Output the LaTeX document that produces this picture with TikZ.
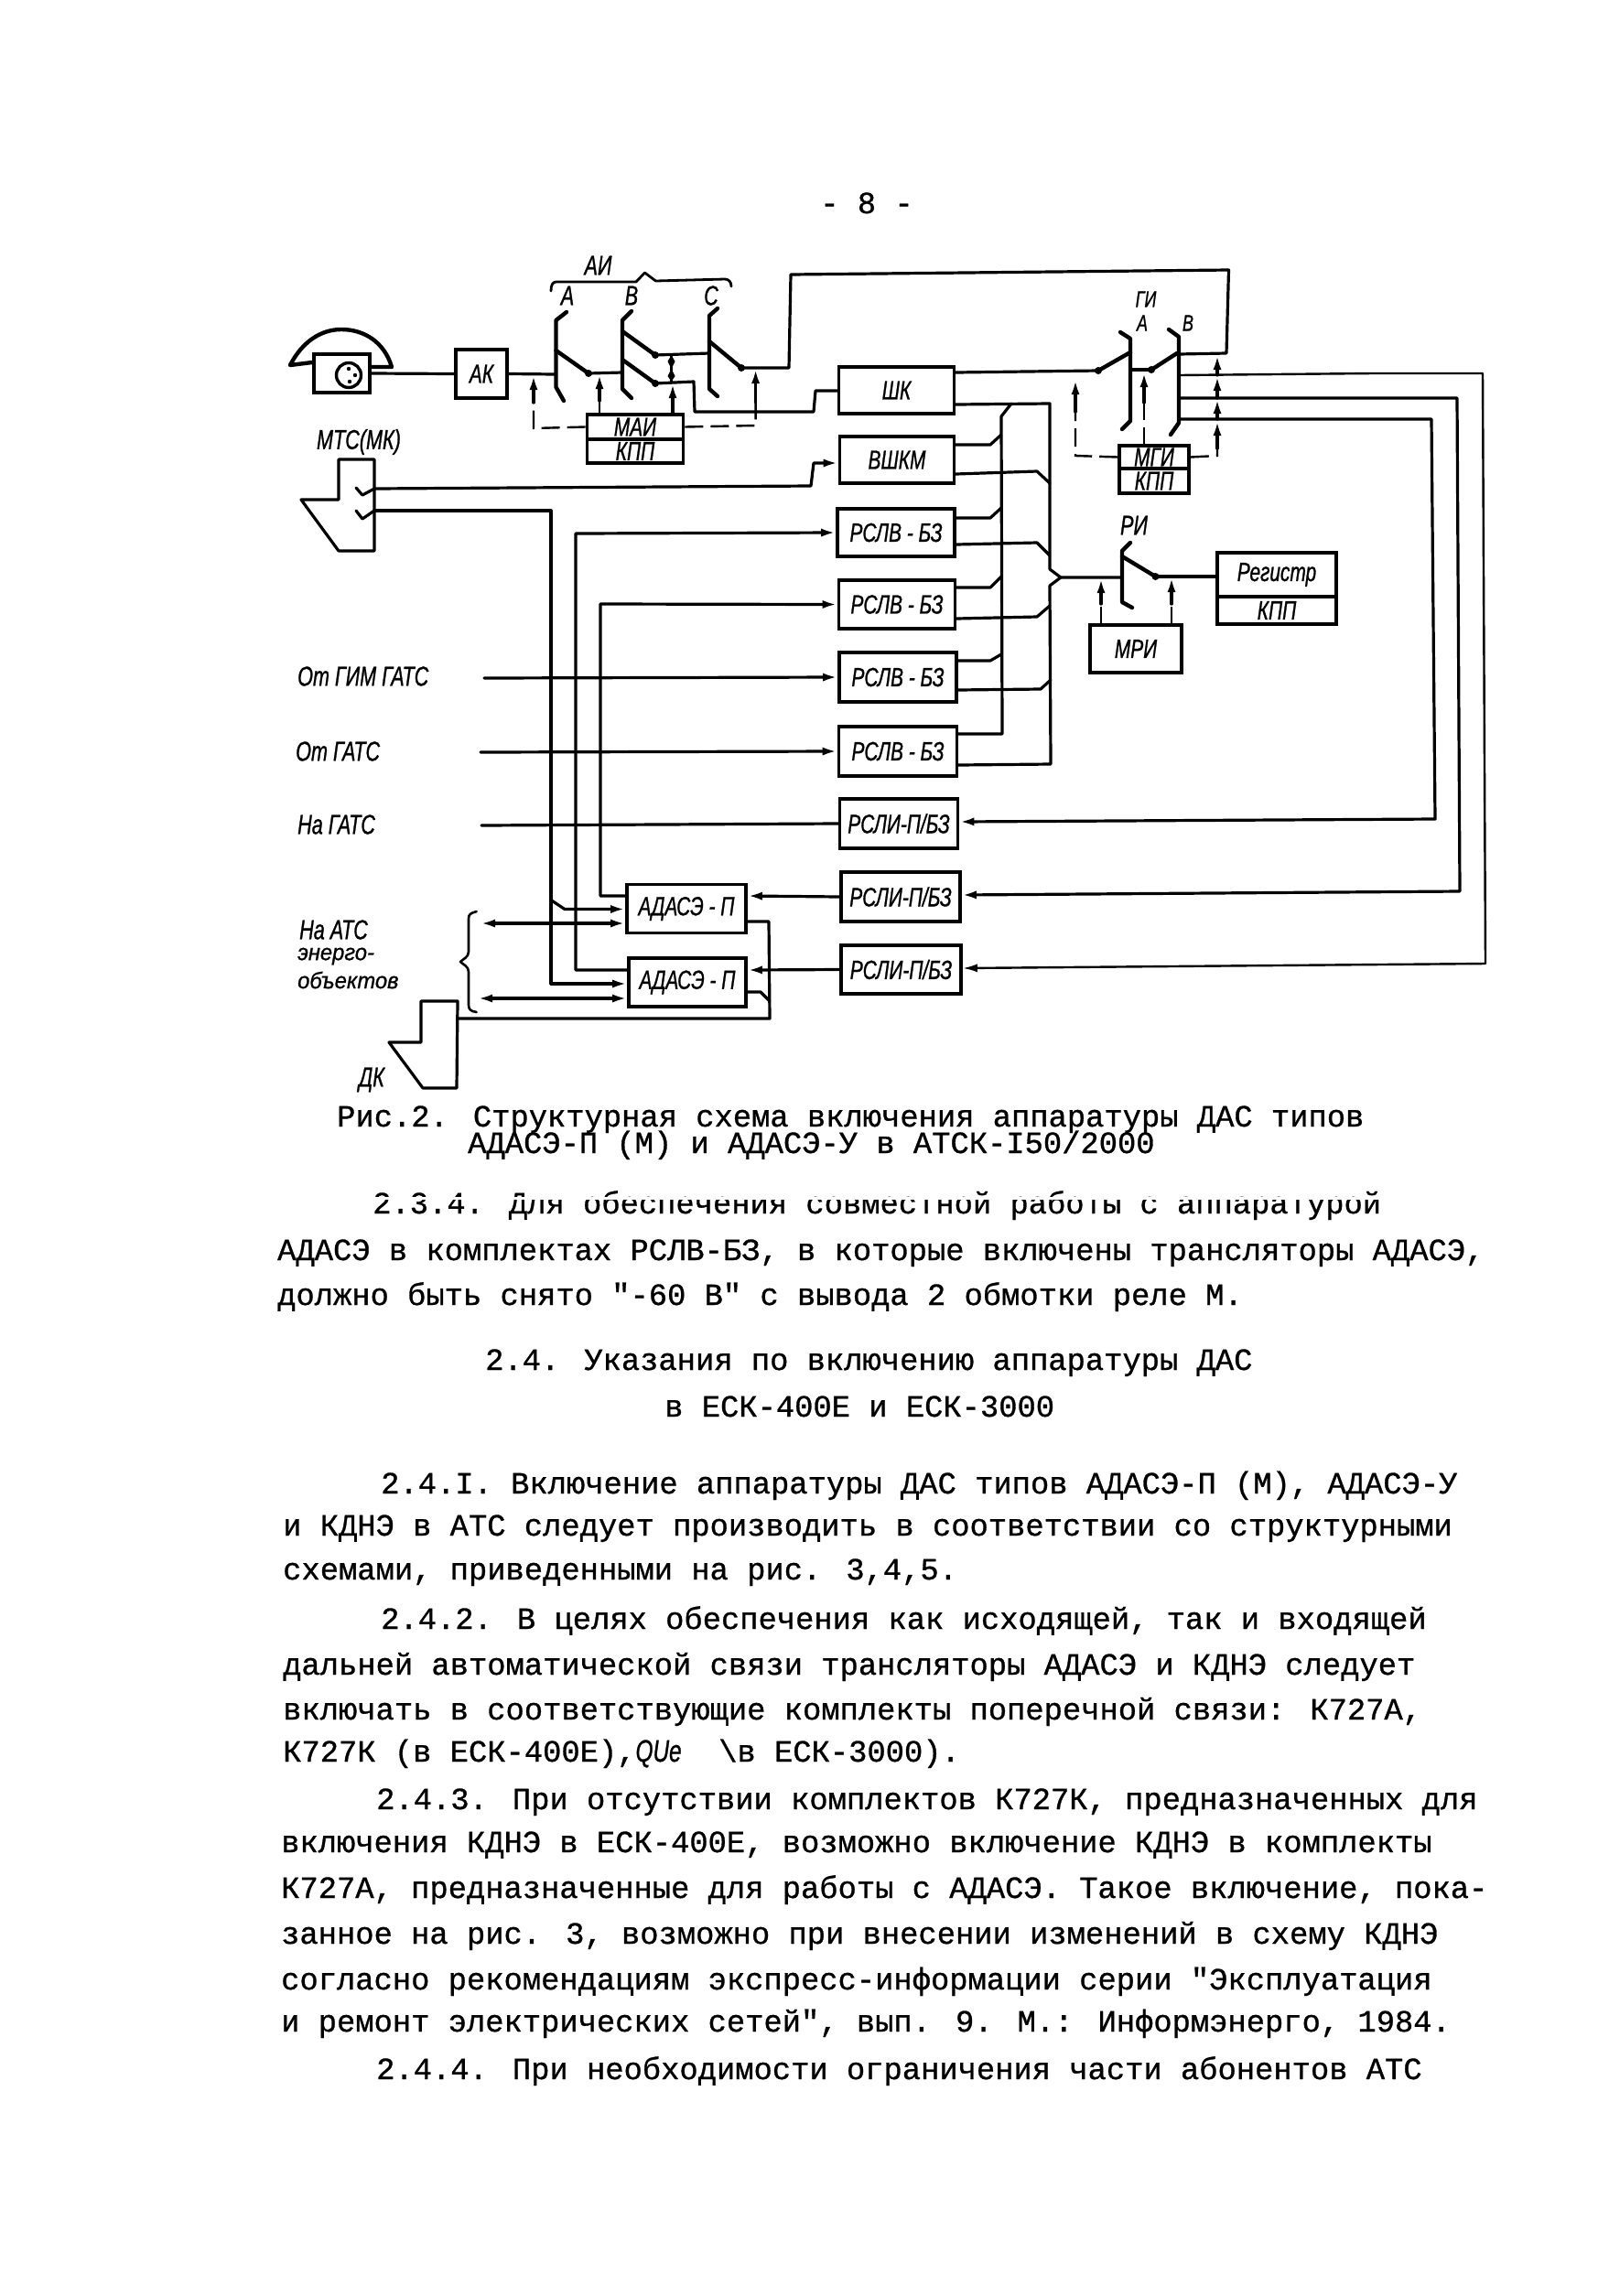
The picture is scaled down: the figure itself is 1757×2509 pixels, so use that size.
\documentclass[tikz,border=0pt]{standalone}
\usepackage{fontspec}
\setmainfont{Liberation Mono}
\newfontfamily\typ[FakeBold=0.9]{Liberation Mono}
\newfontfamily\lab[FakeStretch=0.72,FakeBold=0.9]{Liberation Sans}
\newfontfamily\labw[FakeStretch=0.95,FakeBold=0.9]{Liberation Sans}
\usetikzlibrary{arrows.meta}
\tikzset{
  ln/.style={line width=3.2pt,line join=round,line cap=round},
  thinln/.style={line width=2.4pt,line join=round,line cap=round},
  heavy/.style={line width=4.4pt,line cap=round,line join=round},
  dsh/.style={line width=2.4pt,dash pattern=on 20pt off 8pt},
  arr/.style={-{Latex[length=16pt,width=9pt]}},
  biarr/.style={{Latex[length=16pt,width=9pt]}-{Latex[length=16pt,width=9pt]}},
  bx/.style={draw,line width=3.6pt,inner sep=0pt,align=center,font=\lab\fontsize{29}{29}\selectfont\itshape},
  lb/.style={inner sep=0pt,font=\lab\fontsize{30}{30}\selectfont\itshape},
  lbs/.style={inner sep=0pt,font=\lab\fontsize{25}{25}\selectfont\itshape},
  lbw/.style={inner sep=0pt,anchor=west,font=\labw\fontsize{25}{25}\selectfont\itshape},
  lbl/.style={lb,anchor=west},
  pg/.style={inner sep=0pt,anchor=base west,font=\typ\fontsize{33.8}{34}\selectfont},
}
\begin{document}
\begin{tikzpicture}[x=1pt,y=-1pt]
\useasboundingbox (0,0) rectangle (1757,2509);
% phone
\node[draw,line width=4pt,minimum width=61,minimum height=42,inner sep=0pt] (phone) at (373.5,408) {};
\draw[heavy] (phone.north west) ++(0,11) -- (317,399) .. controls (330,374) and (350,360) .. (373,360) .. controls (398,360) and (420,374) .. (428,401) -- (phone.east |- 0,401);
\node[draw,line width=3.4pt,circle,minimum size=27,inner sep=0pt] (dial) at (381,410) {};
\fill (381,403) circle (2.2) (388,410) circle (2.2) (382,417) circle (2.2);
% main boxes
\node[bx,minimum width=56,minimum height=53] (ak) at (526,408.5) {АК};
\node[bx,minimum width=126,minimum height=51] (shk) at (979.5,426.5) {ШК};
\node[bx,minimum width=125,minimum height=51] (vshkm) at (980,502.5) {ВШКМ};
\node[bx,minimum width=128,minimum height=52] (rslv1) at (979,582) {РСЛВ - БЗ};
\node[bx,minimum width=127,minimum height=53] (rslv2) at (980,660.5) {РСЛВ - БЗ};
\node[bx,minimum width=128,minimum height=54] (rslv3) at (981,740) {РСЛВ - БЗ};
\node[bx,minimum width=129,minimum height=54] (rslv4) at (981,821) {РСЛВ - БЗ};
\node[bx,minimum width=129,minimum height=54] (rsli1) at (982,900) {РСЛИ-П/БЗ};
\node[bx,minimum width=130,minimum height=54] (rsli2) at (984,980) {РСЛИ-П/БЗ};
\node[bx,minimum width=131,minimum height=53] (rsli3) at (984.5,1059.5) {РСЛИ-П/БЗ};
\node[bx,minimum width=130,minimum height=53] (ad1) at (750,993) {АДАСЭ - П};
\node[bx,minimum width=128,minimum height=53] (ad2) at (751,1073.5) {АДАСЭ - П};
\node[bx,minimum width=105,minimum height=27] (mai) at (694,466.5) {МАИ};
\node[bx,minimum width=105,minimum height=26] (kpa) at (694,493) {КПП};
\node[bx,minimum width=76,minimum height=25] (mgi) at (1261,499.5) {МГИ};
\node[bx,minimum width=76,minimum height=27] (kpg) at (1261,525.5) {КПП};
\node[bx,minimum width=130,minimum height=48] (reg) at (1395,628) {Регистр};
\node[bx,minimum width=130,minimum height=30] (kpr) at (1395,667) {КПП};
\node[bx,minimum width=100,minimum height=52] (mri) at (1241,709) {МРИ};
% selector AI
\draw[heavy] (619,341) -- (607.5,350) -- (607.5,423) -- (616,438);
\draw[heavy] (690,340) -- (680,350) -- (680,425) -- (690,435);
\draw[heavy] (784,337) -- (775,345) -- (775,425) -- (784,433);
\draw[heavy] (607.5,383) -- (643,408) (680,362) -- (716,388) (680,393) -- (716,419) (775,373) -- (810,402);
\coordinate (aw) at (643,408);
\coordinate (bw1) at (716,388);
\coordinate (bw2) at (716,419);
\coordinate (cw) at (810,402);
\fill (aw) circle (4) (bw1) circle (4) (bw2) circle (4) (cw) circle (4);
\draw[ln] (phone.east) -- (ak.west);
\draw[ln] (ak.east) -- (607.5,409);
\draw[ln] (aw) -- (680,407);
\draw[ln] (bw1) -- (775,386);
\draw[ln] (bw2) -- (758,417) -- (759,450) -- (889,450) -- (891,427) -- (shk.west |- 0,427);
\draw[ln] (cw) -- (862,402) -- (864,300) -- (1342.5,295) -- (1340,386) -- (1288,387);
% control lines AI
\coordinate (c1) at (583,468);
\draw[dsh] (mai.west) -- (c1) -- (583,430);
\draw[ln,arr] (583,440) -- (583,410);
\draw[dsh] (655,453) -- (655,428);
\draw[ln,arr] (655,438) -- (655,409);
\draw[ln,arr] (735,453) -- (735,419);
\draw[ln] (733.5,388) -- (733.5,417);
\fill (733.5,403) -- (737.5,395) -- (733.5,388) -- (729.5,395) -- cycle (733.5,403) -- (737.5,411) -- (733.5,417) -- (729.5,411) -- cycle;
\coordinate (c2) at (825.6,465);
\draw[dsh] (mai.east) -- (c2) -- (825.6,430);
\draw[ln,arr] (825.6,440) -- (825.6,403);
% MTS
\draw[ln] (370,502) -- (409,502) -- (409,602) -- (370,602) -- (329,546) -- (370,546) -- cycle;
\draw[ln] (389,533) -- (396,541) -- (409,534) (389,558) -- (396,567) -- (409,558);
\coordinate (m1) at (409,534);
\coordinate (m2) at (409,558);
\draw[ln,-{Latex[length=16pt,width=9pt]}] (m1) -- (886,531) -- (889,506) -- (vshkm.west |- 0,506);
% long verticals
\draw[ln,arr] (m2) -- (602,558) -- (602,1075) -- (ad2.west |- 0,1075);
\draw[ln,arr] (602,983.5) -- (617,993.5) -- (ad1.west |- 0,993.5);
\draw[ln,{Latex[length=16pt,width=9pt]}-] (rslv1.west) -- (629,583) -- (629,1060) -- (ad2.west |- 0,1060);
\draw[ln,{Latex[length=16pt,width=9pt]}-] (rslv2.west) -- (656,660) -- (656,979) -- (ad1.west |- 0,979);
% biarrows on ADASE
\draw[ln,biarr] (525,1009) -- (ad1.west |- 0,1009);
\draw[ln,biarr] (522,1091) -- (ad2.west |- 0,1091);
% input lines
\coordinate (i1) at (529,741);
\coordinate (i2) at (525,822);
\coordinate (i3) at (526,902);
\draw[ln,arr] (i1) -- (rslv3.west);
\draw[ln,arr] (i2) -- (rslv4.west);
\draw[ln] (i3) -- (rsli1.west);
\draw[ln,arr] (rsli2.west) -- (ad1.east |- 0,979);
\draw[ln,arr] (rsli3.west) -- (ad2.east |- 0,1060);
% buses
\draw[ln] (shk.east |- 0,442) -- (1147,441) -- (1147,622) -- (1159,631) -- (1226,631);
\draw[ln] (1159,631) -- (1147,640) -- (1148,835) -- (rslv4.east |- 0,836);
\draw[ln] (1105,441) -- (1094,455) -- (1095,802) -- (rslv4.east |- 0,802);
\draw[ln] (vshkm.east |- 0,486) -- (1082,486) -- (1094,475);
\draw[ln] (rslv1.east |- 0,566) -- (1082,566) -- (1094,555);
\draw[ln] (rslv2.east |- 0,642) -- (1082,642) -- (1094,630);
\draw[ln] (rslv3.east |- 0,722) -- (1082,722) -- (1094,715);
\draw[ln] (vshkm.east |- 0,518) -- (1133,515) -- (1147,528);
\draw[ln] (rslv1.east |- 0,595) -- (1133,593) -- (1147,607);
\draw[ln] (rslv2.east |- 0,676) -- (1133,674) -- (1147,662);
\draw[ln] (rslv3.east |- 0,754) -- (1137,753) -- (1148,743);
% GI
\draw[heavy] (1224,363) -- (1235,370) -- (1235,460) -- (1226,469);
\draw[heavy] (1277,360) -- (1288,368) -- (1288,462) -- (1279,475);
\draw[heavy] (1235,385) -- (1200,405) (1286,386) -- (1258,404);
\coordinate (gw1) at (1200,405);
\coordinate (gw2) at (1258,404);
\fill (gw1) circle (4) (gw2) circle (4);
\draw[ln] (shk.east |- 0,407) -- (gw1);
\draw[ln] (1235,404) -- (gw2);
\coordinate (g1) at (1175,498);
\draw[dsh] (mgi.west) -- (g1) -- (1175,440);
\draw[ln,arr] (1175,450) -- (1175,415);
\draw[dsh] (1250,487) -- (1250,435);
\draw[ln,arr] (1250,440) -- (1250,407);
\coordinate (g2) at (1330,498);
\draw[dsh] (mgi.east) -- (g2) -- (1330,480);
\draw[ln,arr] (1330,490) -- (1330,460);
\draw[ln,arr] (1330,458) -- (1330,436);
\draw[ln,arr] (1330,435) -- (1330,411);
\draw[ln,arr] (1330,410) -- (1330,388);
% outgoing to RSLI
\draw[thinln,arr] (1288,410) -- (1500,408) -- (1620,408) -- (1623,1053) -- (rsli3.east |- 0,1058);
\draw[ln,arr] (1288,435) -- (1592,435) -- (1595,974) -- (rsli2.east |- 0,978);
\draw[ln,arr] (1288,458) -- (1564,458) -- (1568,895) -- (rsli1.east |- 0,898);
% RI
\draw[heavy] (1235,593) -- (1226,602) -- (1226,658) -- (1237,664);
\draw[heavy] (1226,608) -- (1262.5,630);
\coordinate (rw) at (1262.5,630);
\fill (rw) circle (4);
\draw[ln] (rw) -- (reg.west |- 0,630);
\draw[dsh] (1203,683) -- (1203,650);
\draw[ln,arr] (1203,660) -- (1203,632);
\draw[dsh] (1280,683) -- (1280,650);
\draw[ln,arr] (1280,660) -- (1280,631);
% DK and its line
\draw[ln] (460,1094) -- (500,1094) -- (499,1189) -- (462,1189) -- (425,1139) -- (460,1139) -- cycle;
\coordinate (dk) at (500,1113);
\draw[ln] (dk) -- (841,1113) -- (840,1007) -- (ad1.east |- 0,1007);
\draw[ln] (ad2.east |- 0,1084) -- (831,1084) -- (841,1094);
% braces
\draw[ln,line width=2.8pt] (602,318) .. controls (602,311) and (604,308) .. (608,308) -- (695,308) -- (704.5,298) -- (716.5,307) -- (792,305) .. controls (796,305) and (799,308) .. (799,313);
\draw[ln,line width=2.6pt] (520.6,996) .. controls (514,998) and (512,999) .. (512,1004) -- (512,1040) .. controls (512,1046) and (506,1048) .. (503,1051) .. controls (506,1054) and (512,1056) .. (512,1062) -- (512,1098) .. controls (512,1103) and (514,1105) .. (520.6,1106);
% labels
\node[lb] (lai) at (653.5,290) {АИ};
\node[lb] (la) at (620,323) {А};
\node[lb] (lb2) at (690,323) {В};
\node[lb] (lc) at (777,323) {С};
\node[lb] (lmts) at (392,483) {МТС(МК)};
\node[lbs] (lgi) at (1252,327) {ГИ};
\node[lbs] (lga) at (1248,353) {А};
\node[lbs] (lgb) at (1298,353) {В};
\node[lb] (lri) at (1239,574) {РИ};
\node[lbl] (lo1) at (325,739) {От ГИМ ГАТС};
\node[lbl] (lo2) at (323,821) {От ГАТС};
\node[lbl] (lo3) at (325,901) {На ГАТС};
\node[lbl] (lo4) at (327,1016) {На АТС};
\node[lbw] (lo5) at (325,1045) {энерго-};
\node[lbw] (lo6) at (325,1071) {объектов};
\node[lb] (ldk) at (406,1180) {ДК};
% page text
\node[pg,anchor=base] (p0) at (947,233) {- 8 -};
\node[pg] (c1t) at (368,1231) {Рис.2. Структурная схема включения аппаратуры ДАС типов};
\node[pg] (c2t) at (511,1260) {АДАСЭ-П (М) и АДАСЭ-У в АТСК-I50/2000};
\node[pg] (p1) at (407,1326) {2.3.4. Для обеспечения совместной работы с аппаратурой};
\fill[white] (400,1307.5) rectangle (1520,1310.5);
\node[pg] (p2) at (303,1377) {АДАСЭ в комплектах РСЛВ-БЗ, в которые включены трансляторы АДАСЭ,};
\node[pg] (p3) at (303,1426) {должно быть снято "-60 В" с вывода 2 обмотки реле М.};
\node[pg] (p4) at (530,1497) {2.4. Указания по включению аппаратуры ДАС};
\node[pg] (p5) at (726,1548) {в ЕСК-400Е и ЕСК-3000};
\node[pg] (p6) at (416,1632) {2.4.I. Включение аппаратуры ДАС типов АДАСЭ-П (М), АДАСЭ-У};
\node[pg] (p7) at (309,1678) {и КДНЭ в АТС следует производить в соответствии со структурными};
\node[pg] (p8) at (309,1726) {схемами, приведенными на рис. 3,4,5.};
\node[pg] (p9) at (416,1780) {2.4.2. В целях обеспечения как исходящей, так и входящей};
\node[pg] (p10) at (309,1830) {дальней автоматической связи трансляторы АДАСЭ и КДНЭ следует};
\node[pg] (p11) at (309,1879) {включать в соответствующие комплекты поперечной связи: К727А,};
\node[pg] (p12) at (309,1925) {К727К (в ЕСК-400Е),{\lab\itshape QUe}~~\textbackslash в ЕСК-3000).};
\node[pg] (p13) at (411,1977) {2.4.3. При отсутствии комплектов К727К, предназначенных для};
\node[pg] (p14) at (307,2024) {включения КДНЭ в ЕСК-400Е, возможно включение КДНЭ в комплекты};
\node[pg] (p15) at (307,2074) {К727А, предназначенные для работы с АДАСЭ. Такое включение, пока-};
\node[pg] (p16) at (307,2124) {занное на рис. 3, возможно при внесении изменений в схему КДНЭ};
\node[pg] (p17) at (307,2174) {согласно рекомендациям экспресс-информации серии "Эксплуатация};
\node[pg] (p18) at (307,2220) {и ремонт электрических сетей", вып. 9. М.: Информэнерго, 1984.};
\node[pg] (p19) at (411,2272) {2.4.4. При необходимости ограничения части абонентов АТС};
\end{tikzpicture}
\end{document}
